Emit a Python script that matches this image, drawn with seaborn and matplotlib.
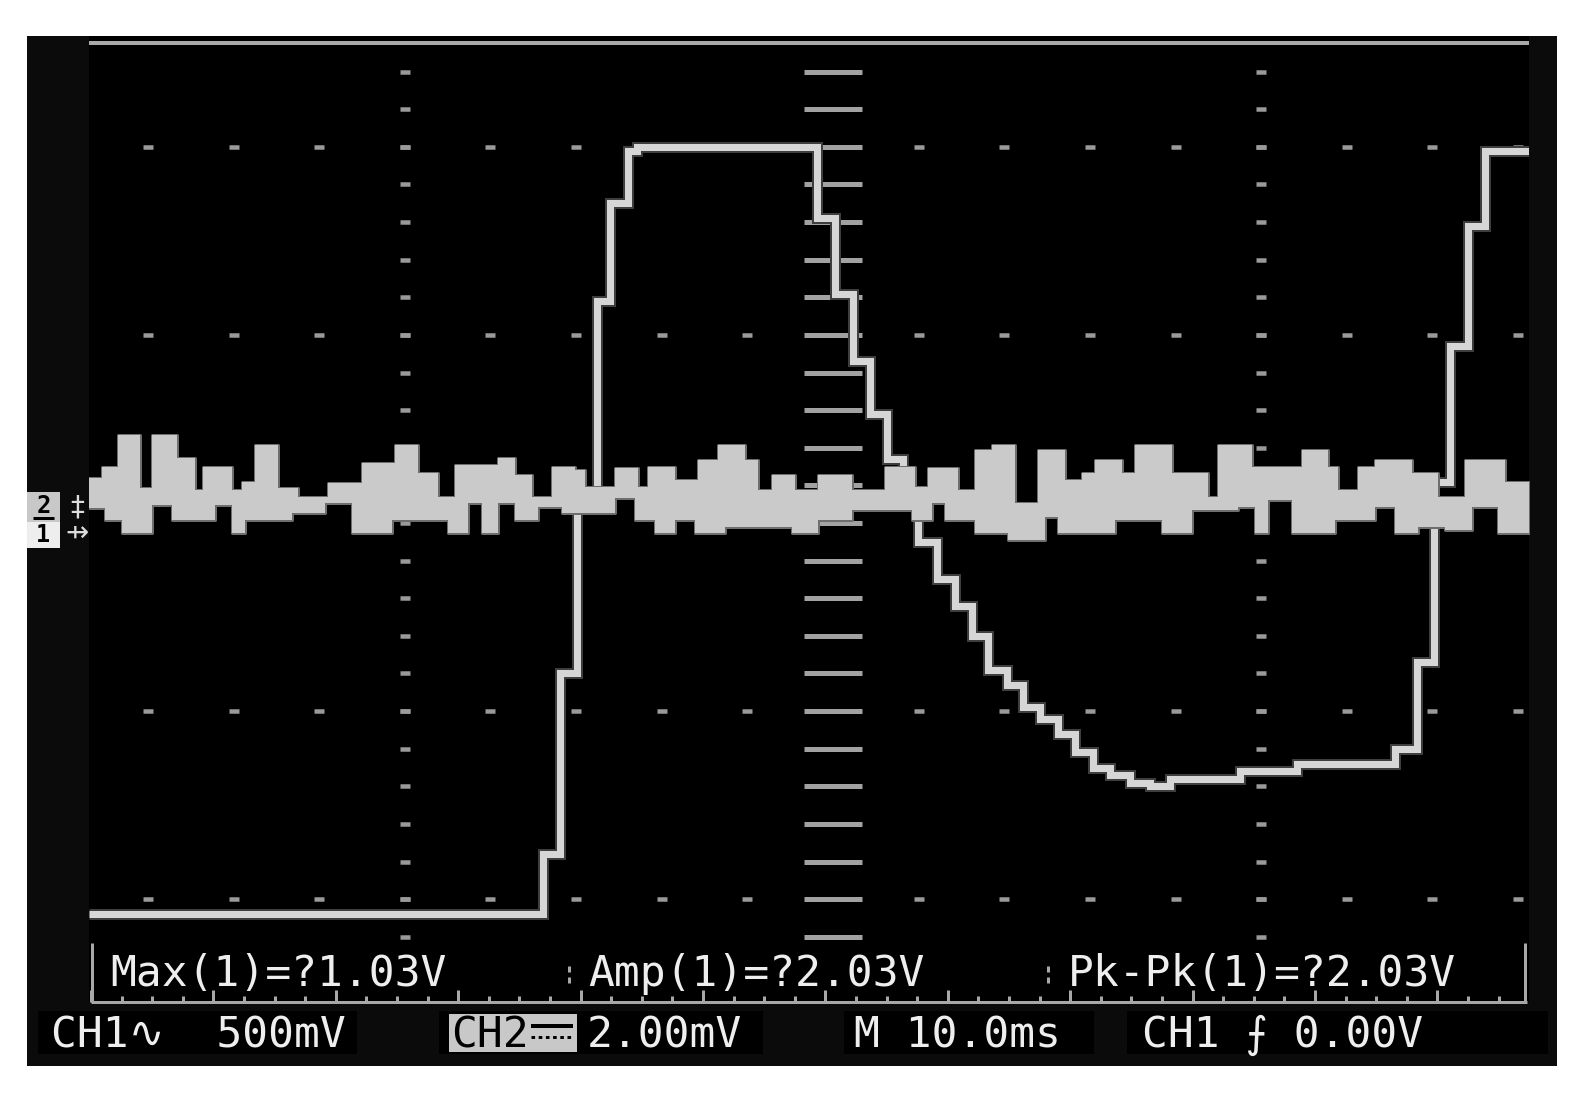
import numpy as np
import matplotlib
matplotlib.use("Agg")
import matplotlib.pyplot as plt
import seaborn as sns
from matplotlib.patches import Rectangle
from matplotlib.lines import Line2D
import matplotlib.patheffects as pe

# ---------------- data ----------------
# CH1 trace: time (ms) where each new level starts, level (V); 500 mV/div
ch1_t = [-17.37, -6.77, -6.38, -5.98, -5.51, -5.21, -4.79, -4.58, -0.37, 0.05,
         0.47, 0.86, 1.26, 1.63, 1.99, 2.43, 2.85, 3.25, 3.62, 4.06,
         4.44, 4.83, 5.25, 5.65, 6.07, 6.47, 6.94, 7.40, 7.87, 9.50,
         10.84, 13.12, 13.64, 14.04, 14.41, 14.83, 15.23, 16.25]
ch1_v = [-1.04, -0.88, -0.40, 0.06, 0.59, 0.85, 0.99, 1.00, 0.81, 0.61,
         0.43, 0.29, 0.17, 0.05, -0.05, -0.15, -0.22, -0.30, -0.39, -0.43,
         -0.49, -0.52, -0.56, -0.61, -0.65, -0.67, -0.69, -0.70, -0.68, -0.66,
         -0.64, -0.60, -0.37, 0.11, 0.47, 0.79, 0.99, 0.99]

# CH2 noise band envelope (mV); 2.00 mV/div
ch2_top_t = [-17.40, -17.07, -16.70, -16.18, -15.90, -15.32, -14.90, -14.71, -14.03, -13.80,
             -13.50, -12.96, -12.49, -11.79, -11.00, -10.23, -9.69, -9.22, -8.83, -7.82,
             -7.43, -7.03, -6.56, -6.03, -5.79, -5.09, -4.55, -4.32, -3.69, -3.15,
             -2.69, -2.06, -1.75, -1.42, -0.89, -0.35, 0.44, 1.21, 1.92, 2.22,
             2.92, 3.32, 3.71, 4.25, 4.79, 5.42, 5.82, 6.12, 6.75, 7.05,
             7.92, 8.76, 8.99, 9.79, 10.95, 11.56, 11.79, 12.26, 12.66, 13.52,
             14.13, 14.76, 15.69, 16.25]
ch2_top_mv = [0.48, 0.60, 0.94, 0.37, 0.94, 0.69, 0.35, 0.60, 0.35, 0.44,
              0.83, 0.37, 0.28, 0.43, 0.64, 0.83, 0.53, 0.28, 0.62, 0.69,
              0.51, 0.28, 0.60, 0.56, 0.38, 0.58, 0.38, 0.60, 0.46, 0.67,
              0.83, 0.67, 0.35, 0.51, 0.35, 0.51, 0.35, 0.60, 0.38, 0.58,
              0.35, 0.78, 0.83, 0.21, 0.78, 0.46, 0.53, 0.67, 0.53, 0.83,
              0.53, 0.28, 0.83, 0.60, 0.78, 0.60, 0.35, 0.60, 0.67, 0.53,
              0.28, 0.67, 0.44, 0.44]
ch2_bot_t = [-17.40, -17.00, -16.60, -15.90, -15.44, -14.43, -14.03, -13.73, -12.63, -11.86,
             -11.23, -10.30, -8.99, -8.52, -8.20, -7.82, -7.43, -6.89, -6.33, -5.09,
             -4.62, -4.16, -3.69, -3.22, -2.52, -0.96, -0.35, 0.44, 1.84, 2.31,
             2.62, 3.32, 4.09, 4.95, 5.25, 6.59, 7.68, 8.38, 9.46, 9.86,
             10.16, 10.72, 11.72, 12.66, 13.12, 13.66, 14.29, 14.92, 15.53, 16.25]
ch2_bot_mv = [0.16, 0.03, -0.11, 0.19, 0.03, 0.19, -0.11, 0.03, 0.11, 0.21,
              -0.11, 0.03, -0.11, 0.21, -0.11, 0.21, 0.03, 0.17, 0.11, 0.27,
              0.03, -0.11, 0.03, -0.11, -0.04, -0.11, 0.03, 0.14, 0.03, 0.21,
              0.03, -0.11, -0.18, 0.06, -0.11, 0.03, -0.11, 0.14, 0.17, -0.11,
              0.24, -0.11, 0.03, 0.17, -0.11, -0.04, -0.07, 0.17, -0.11, -0.11]

CH1_V_PER_DIV = 0.5
CH2_MV_PER_DIV = 2.0

meas_labels = ["Max(1)=?1.03V", "Amp(1)=?2.03V", "Pk-Pk(1)=?2.03V"]
status_labels = ["CH1\u223f  500mV", "2.00mV", "M 10.0ms", "CH1 \u2a0d 0.00V"]

# ---------------- figure ----------------
sns.set_theme(style="dark")
plt.rcParams['font.family'] = ['DejaVu Sans Mono', 'DejaVu Sans']

W, H, DPI = 1589, 1102, 100
PT = 72.0 / DPI
fig = plt.figure(figsize=(W / DPI, H / DPI), dpi=DPI, facecolor='white')


def fx(x):
    return x / W


def fy(y):
    return 1 - y / H


def frect(x0, y0, x1, y1, color, z=0):
    fig.add_artist(Rectangle((fx(x0), fy(y1)), fx(x1) - fx(x0), fy(y0) - fy(y1),
                             transform=fig.transFigure, color=color, lw=0, zorder=z))


def fline(xs, ys, lw, color, z=3, **kw):
    fig.add_artist(Line2D([fx(v) for v in xs], [fy(v) for v in ys], transform=fig.transFigure,
                          lw=lw * PT, color=color, zorder=z, solid_capstyle='butt', **kw))


# screen body
frect(27, 36, 1557, 1066, '#0b0b0b', z=0)

ax = fig.add_axes([fx(89), fy(1003), fx(1529) - fx(89), fy(36) - fy(1003)])
ax.set_facecolor('black')
ax.set_xlim(-17.375, 16.254)
ax.set_ylim(-2.552, 2.589)
ax.set_xticks([])
ax.set_yticks([])
ax.grid(False)
for s in ax.spines.values():
    s.set_visible(False)

# graticule
glow = [pe.Stroke(linewidth=7 * PT, foreground='#3a3a3a'), pe.Normal()]
dot_kw = dict(ls='none', marker='_', ms=10 * PT, mew=4.5 * PT, color='#9a9a9a', zorder=1)
t_minor = np.arange(-16, 17, 2)
t_minor = t_minor[t_minor != 0]
for yv in (-2, -1, 1, 2):
    ax.plot(t_minor, np.full(len(t_minor), yv), **dot_kw)
y_minor = np.round(np.arange(-2.2, 2.41, 0.2), 2)
for tv in (-10, 10):
    ax.plot(np.full(len(y_minor), tv), y_minor, **dot_kw)
ax.plot(np.zeros(len(y_minor)), y_minor, ls='none', marker='_', ms=58 * PT, mew=5 * PT,
        color='#a2a2a2', zorder=1)
ax.axhline(2.552, color='#a9a9a9', lw=4 * PT, zorder=1)

# CH1 trace
sns.lineplot(x=ch1_t, y=np.asarray(ch1_v) / CH1_V_PER_DIV, drawstyle='steps-post',
             estimator=None, sort=False, color='#d6d6d6', lw=7 * PT, ax=ax, zorder=2,
             solid_joinstyle='miter', solid_capstyle='butt',
             path_effects=[pe.Stroke(linewidth=11 * PT, foreground='#3e3e3e'), pe.Normal()])

# CH2 noise band (drawn over CH1 where they overlap, as on the scope)
t_edges = np.union1d(ch2_top_t, ch2_bot_t)
top_on = np.asarray(ch2_top_mv)[np.searchsorted(ch2_top_t, t_edges, side='right') - 1]
bot_on = np.asarray(ch2_bot_mv)[np.searchsorted(ch2_bot_t, t_edges, side='right') - 1]
ax.fill_between(t_edges, bot_on / CH2_MV_PER_DIV, top_on / CH2_MV_PER_DIV, step='post',
                facecolor='#cacaca', edgecolor='#6e6e6e', lw=3 * PT, zorder=3)
ax.fill_between(t_edges, bot_on / CH2_MV_PER_DIV, top_on / CH2_MV_PER_DIV, step='post',
                facecolor='#cacaca', edgecolor='none', lw=0, zorder=3.1)

# ---------------- measurement box ----------------
BOX_GRAY = '#a8a8a8'
fline([91, 1527], [1002, 1002], 3, BOX_GRAY)
k = 0
xt = 91.0
while xt <= 1527:
    h = 12 if k % 4 == 0 else 6
    fline([xt, xt], [1002, 1002 - h], 3, BOX_GRAY)
    xt += 30.6
    k += 1
fline([92, 92], [943, 1002], 3, BOX_GRAY)
fline([1525, 1525], [943, 1002], 3, BOX_GRAY)
for xs in (569, 1048):
    fline([xs, xs], [966, 972], 3, BOX_GRAY)
    fline([xs, xs], [977, 983], 3, BOX_GRAY)

TXT = '#eeeeee'
FS = 31
for lab, x0 in zip(meas_labels, (110, 588, 1068)):
    fig.text(fx(x0), fy(986), lab, color=TXT, fontsize=FS, ha='left', va='baseline',
             family=['DejaVu Sans Mono', 'DejaVu Sans'], zorder=5)

# ---------------- status row ----------------
frect(38, 1011, 357, 1054, 'black', z=1)
frect(439, 1011, 763, 1054, 'black', z=1)
frect(844, 1011, 1094, 1054, 'black', z=1)
frect(1127, 1011, 1548, 1054, 'black', z=1)
frect(449, 1014, 577, 1052, '#c8c8c8', z=2)
fig.text(fx(451), fy(1047), "CH2", color='black', fontsize=FS, ha='left', va='baseline',
         family=['DejaVu Sans Mono', 'DejaVu Sans'], zorder=5)
fline([531, 573], [1026, 1026], 4, 'black', z=5)
fline([531, 573], [1037, 1037], 3, 'black', z=5, dashes=(1.2, 1.2))

for lab, x0 in zip(status_labels, (51, 587, 854, 1142)):
    fig.text(fx(x0), fy(1047), lab, color=TXT, fontsize=FS, ha='left', va='baseline',
             family=['DejaVu Sans Mono', 'DejaVu Sans'], zorder=5)

# ---------------- channel ground markers ----------------
frect(27, 492, 60, 522, '#c8c8c8', z=2)
frect(27, 522, 60, 548, '#eeeeee', z=2)
fig.text(fx(43.5), fy(506), "2", color='black', fontsize=17, ha='center', va='center',
         fontweight='bold', family=['DejaVu Sans Mono'], zorder=5)
fline([33, 54], [518, 518], 3, 'black', z=5)
fig.text(fx(43.5), fy(535), "1", color='black', fontsize=17, ha='center', va='center',
         fontweight='bold', family=['DejaVu Sans Mono'], zorder=5)
fig.text(fx(77), fy(508), "\u2021", color='#dddddd', fontsize=20, ha='center', va='center',
         family=['DejaVu Sans'], zorder=5)
fig.text(fx(77), fy(533), "\u21f8", color='#dddddd', fontsize=20, ha='center', va='center',
         family=['DejaVu Sans'], zorder=5)

fig.savefig('out.png', dpi=DPI, facecolor='white')
